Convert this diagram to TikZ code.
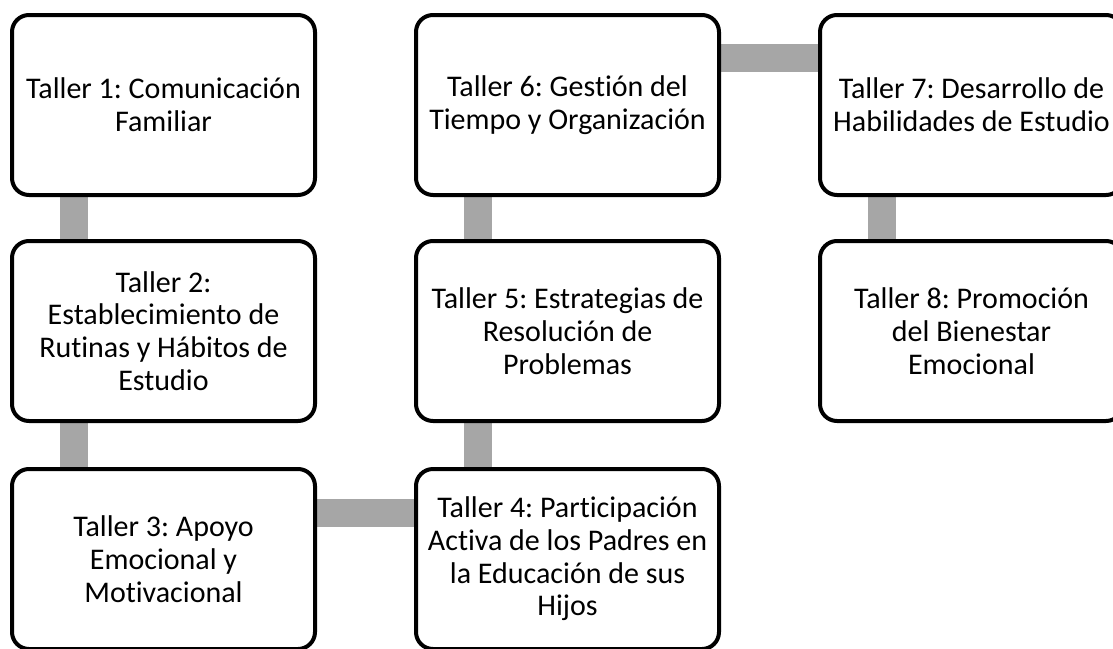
\documentclass[tikz,border=0pt]{standalone}
\usepackage{fontspec}
\setmainfont{Carlito}[Ligatures=NoCommon]
\usepackage{tikz}
\usetikzlibrary{backgrounds}
\definecolor{linkgray}{RGB}{166,166,166}
\frenchspacing
\tikzset{
    taller/.style={draw=black, fill=white, rounded corners=17pt, line width=4pt,
        minimum width=303pt, minimum height=180pt, inner sep=0pt, align=center,
        font=\fontsize{30}{32.7}\selectfont},
    link/.style={draw=linkgray, line width=28pt},
}

\begin{document}
\begin{tikzpicture}[x=1pt, y=-1pt]
	\useasboundingbox (0,0) rectangle (1113,648);
	\node[taller] (t1) at (163.5,105) {Taller 1: Comunicación\\Familiar};
	\node[taller] (t2) at (163.5,331) {Taller 2:\\Establecimiento de\\Rutinas y Hábitos de\\Estudio};
	\node[taller] (t3) at (163.5,559) {Taller 3: Apoyo\\Emocional y\\Motivacional};
	\node[taller] (t4) at (567.5,559) {Taller 4: Participación\\Activa de los Padres en\\la Educación de sus\\Hijos};
	\node[taller] (t5) at (567.5,331) {Taller 5: Estrategias de\\Resolución de\\Problemas};
	\node[taller] (t6) at (567.5,105) {Taller 6: Gestión del\\Tiempo y Organización};
	\node[taller] (t7) at (971.5,105) {Taller 7: Desarrollo de\\Habilidades de Estudio};
	\node[taller] (t8) at (971.5,331) {Taller 8: Promoción\\del Bienestar\\Emocional};
\begin{scope}[on background layer]
	\draw[link] ([xshift=-90pt]t1.south) -- ([xshift=-90pt]t2.north);
	\draw[link] ([xshift=-90pt]t2.south) -- ([xshift=-90pt]t3.north);
	\draw[link] ([yshift=46pt]t3.east) -- ([yshift=46pt]t4.west);
	\draw[link] ([xshift=-90pt]t4.north) -- ([xshift=-90pt]t5.south);
	\draw[link] ([xshift=-90pt]t5.north) -- ([xshift=-90pt]t6.south);
	\draw[link] ([yshift=47pt]t6.east) -- ([yshift=47pt]t7.west);
	\draw[link] ([xshift=-90pt]t7.south) -- ([xshift=-90pt]t8.north);
\end{scope}
\end{tikzpicture}
\end{document}
